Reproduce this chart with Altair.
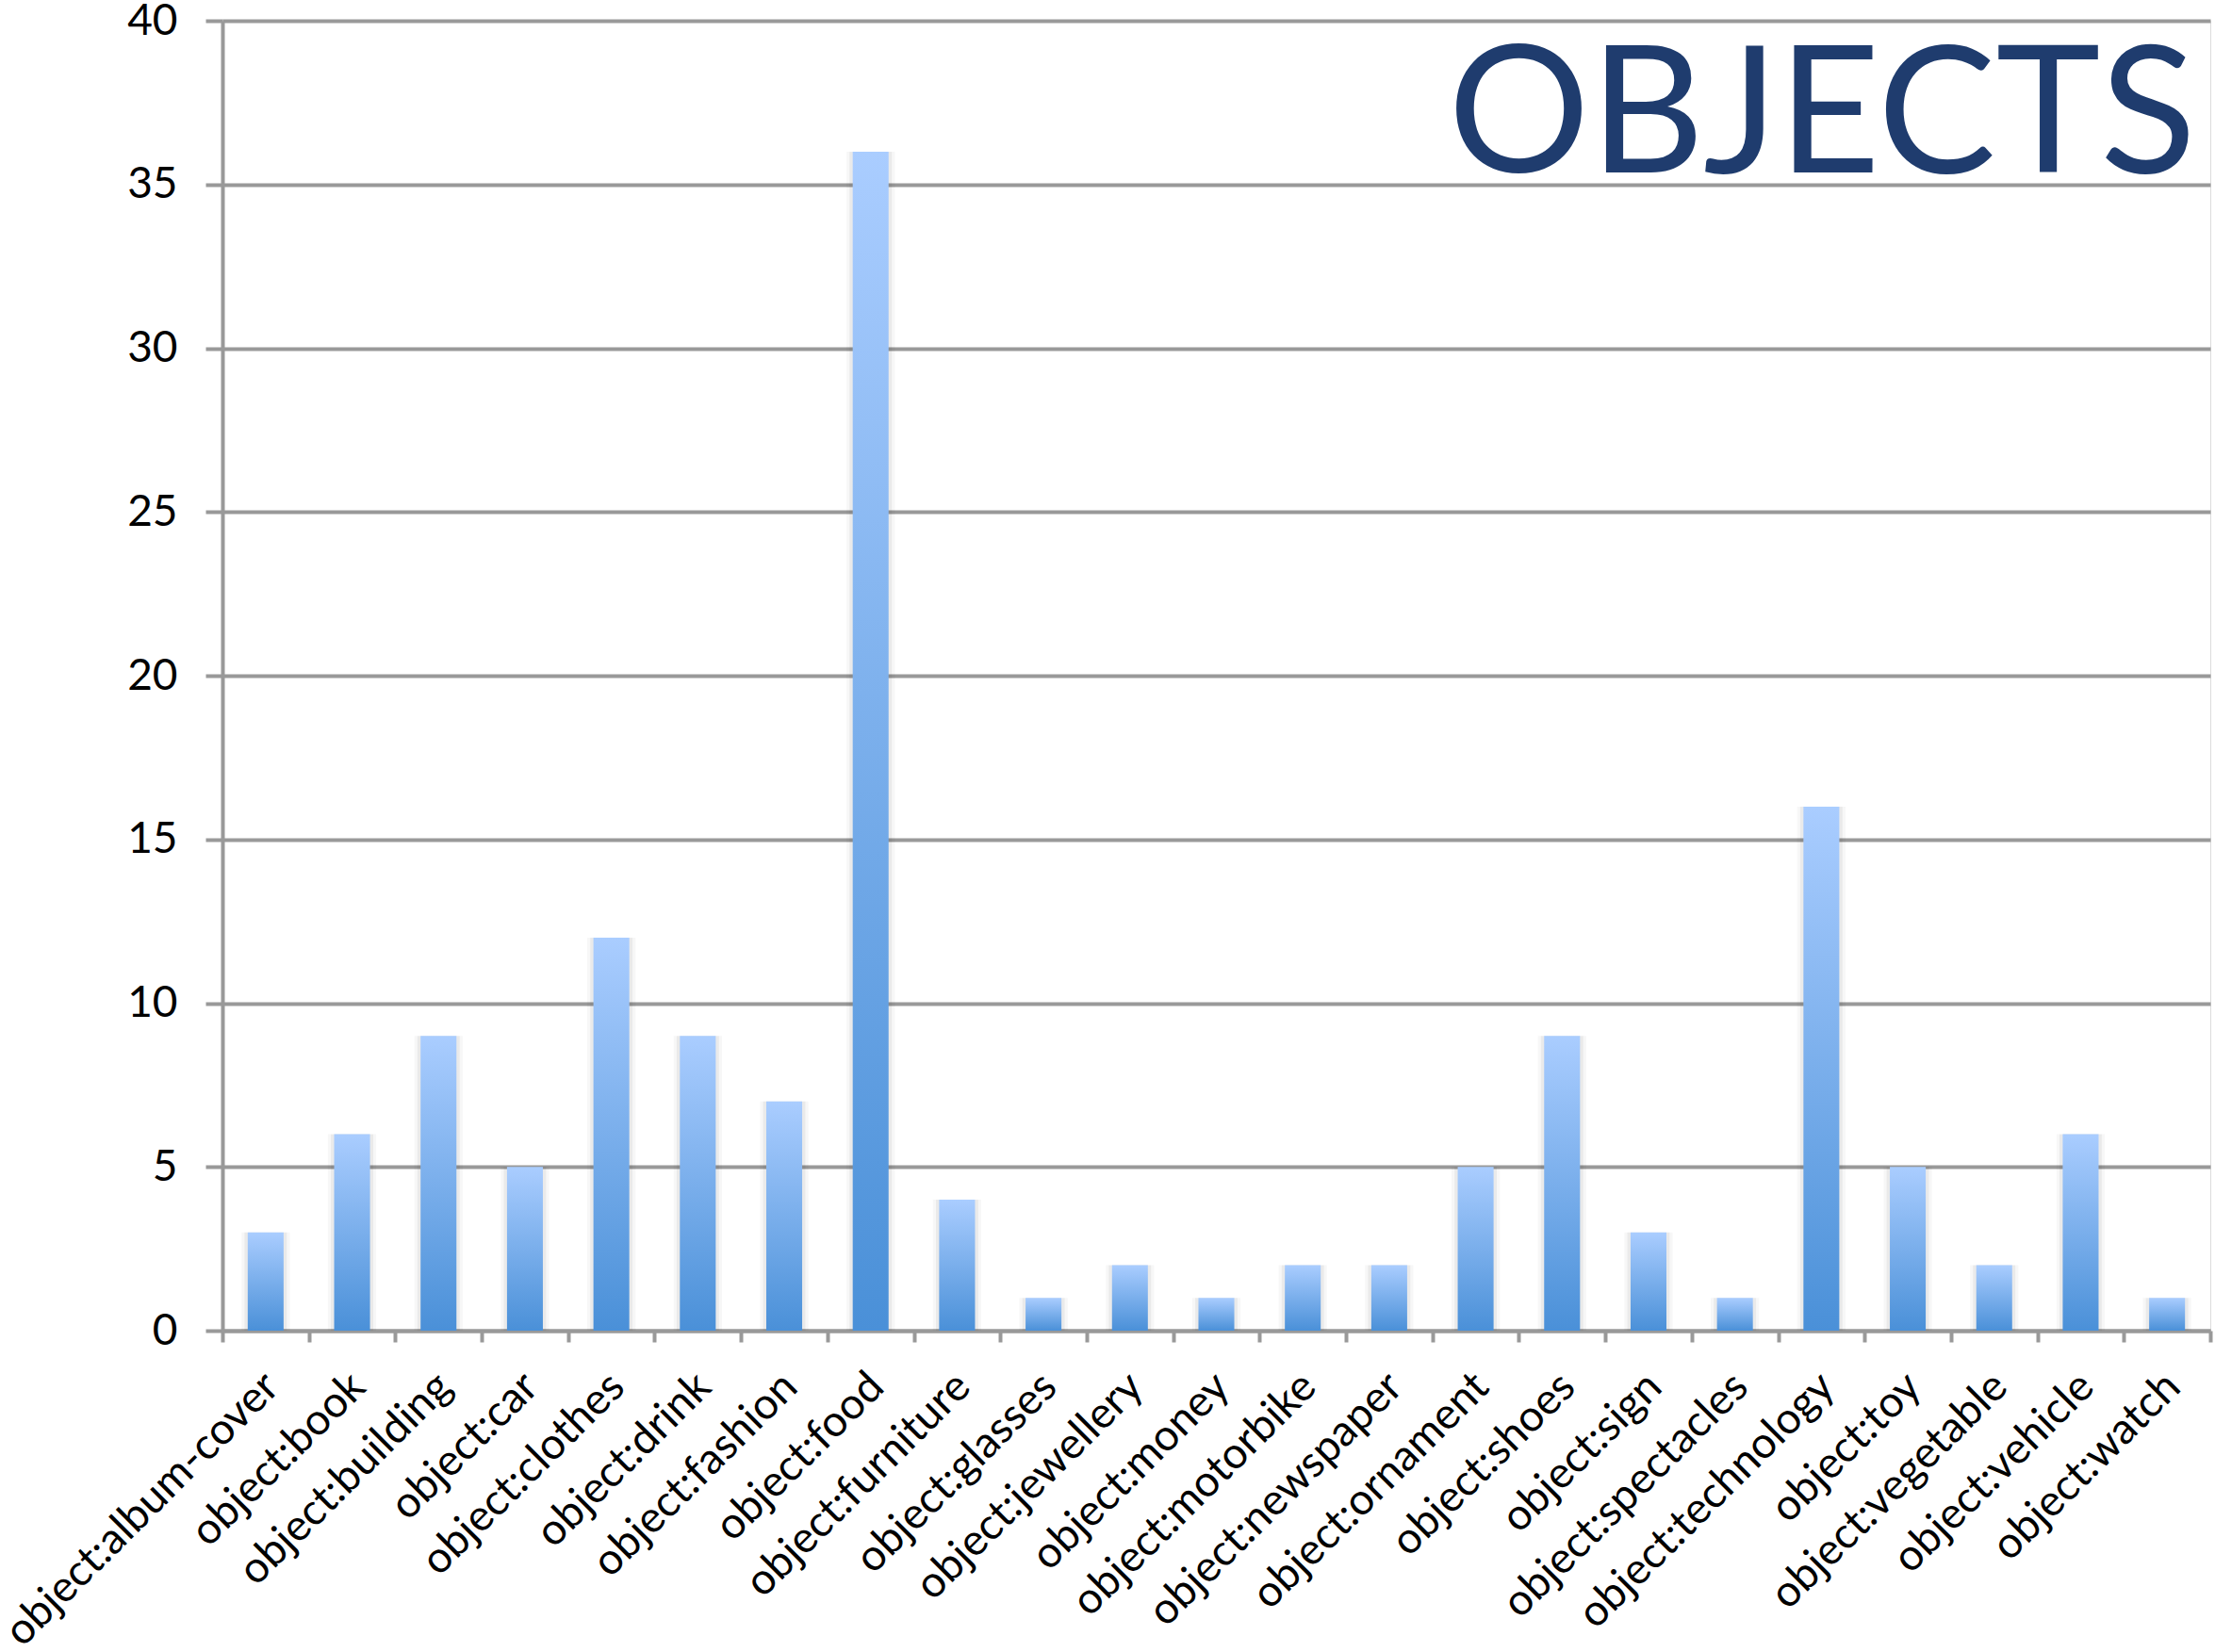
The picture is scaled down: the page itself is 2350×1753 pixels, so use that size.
import altair as alt
import pandas as pd

# Category counts for tagged objects
categories = [
    "object:album-cover", "object:book", "object:building", "object:car",
    "object:clothes", "object:drink", "object:fashion", "object:food",
    "object:furniture", "object:glasses", "object:jewellery", "object:money",
    "object:motorbike", "object:newspaper", "object:ornament", "object:shoes",
    "object:sign", "object:spectacles", "object:technology", "object:toy",
    "object:vegetable", "object:vehicle", "object:watch",
]
counts = [3, 6, 9, 5, 12, 9, 7, 36, 4, 1, 2, 1, 2, 2, 5, 9, 3, 1, 16, 5, 2, 6, 1]
y_ticks = [0, 5, 10, 15, 20, 25, 30, 35, 40]
heading = ["OBJECTS"]

df = pd.DataFrame({"category": categories, "count": counts})
head_df = pd.DataFrame({"label": heading})

GRID = "#999999"
FONT = "Lato"
W, H = 2109, 1390

x_enc = alt.X(
    "category:N",
    sort=categories,
    scale=alt.Scale(paddingInner=0, paddingOuter=0),
    axis=alt.Axis(
        title=None,
        labelAngle=-45,
        labelAlign="right",
        labelBaseline="middle",
        labelFontSize=46,
        labelFont=FONT,
        labelColor="#000000",
        labelPadding=40,
        labelOffset=6,
        labelOverlap=False,
        labelLimit=0,
        tickBand="extent",
        tickSize=12,
        tickColor=GRID,
        tickWidth=4,
        domainColor=GRID,
        domainWidth=4,
        grid=False,
    ),
)

y_enc = alt.Y(
    "count:Q",
    scale=alt.Scale(domain=[0, 40], nice=False),
    axis=alt.Axis(
        title=None,
        values=y_ticks,
        labelFontSize=46,
        labelFont=FONT,
        labelColor="#000000",
        labelPadding=30,
        tickSize=18,
        tickColor=GRID,
        tickWidth=4,
        domainColor=GRID,
        domainWidth=4,
        gridColor=GRID,
        gridWidth=4,
    ),
)

# Soft shadow around each bar
shadow_outer = alt.Chart(df).mark_bar(
    width=alt.RelativeBandSize(0.56), color="#000000", opacity=0.03
).encode(x=x_enc, y=y_enc)
shadow_inner = alt.Chart(df).mark_bar(
    width=alt.RelativeBandSize(0.49), color="#000000", opacity=0.05
).encode(x=x_enc, y=y_enc)

bars = alt.Chart(df).mark_bar(
    width=alt.RelativeBandSize(0.415),
    color=alt.Gradient(
        gradient="linear",
        stops=[
            alt.GradientStop(color="#AACDFF", offset=0),
            alt.GradientStop(color="#4A90D8", offset=1),
        ],
        x1=0, x2=0, y1=0, y2=1,
    ),
).encode(x=x_enc, y=y_enc)

# Large heading in the upper right of the plot
heading_text = alt.Chart(head_df).mark_text(
    align="right",
    baseline="alphabetic",
    font=FONT,
    fontSize=188,
    fontWeight="normal",
    color="#1F3C6E",
).encode(text="label:N", x=alt.value(W - 15), y=alt.value(161))

chart = alt.layer(shadow_outer, shadow_inner, bars, heading_text).properties(
    width=W,
    height=H,
    autosize=alt.AutoSizeParams(type="none"),
    padding={"left": 236, "top": 22, "right": 5, "bottom": 341},
).configure_view(stroke=None).configure(background="#FFFFFF")

chart.save("out.html", embed_options={"renderer": "svg", "actions": False})
